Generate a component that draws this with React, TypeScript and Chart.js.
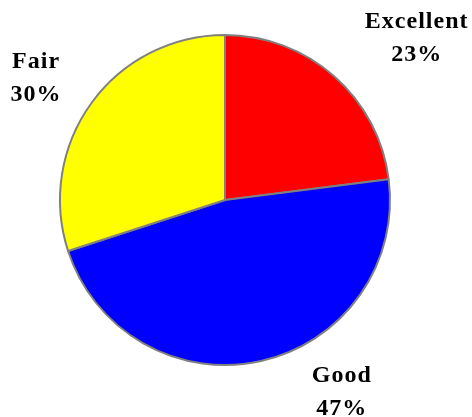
import React, { useEffect, useRef } from "react";
import { Chart, registerables } from "chart.js";

Chart.register(...registerables);

const categories = ["Excellent", "Good", "Fair"];
const values = [23, 47, 30];
const colors = ["#ff0000", "#0000ff", "#ffff00"];
// label placement: angle shift (deg) from slice mid-angle, distance as ratio of radius
const labelAngleShift = [8, -19, -2.7];
const labelDistance = [1.53, 1.35, 1.37];

const labelPlugin = {
  id: "outsideLabels",
  afterDraw(chart: any) {
    const ctx = chart.ctx;
    const meta = chart.getDatasetMeta(0);
    const total = values.reduce((a, b) => a + b, 0);
    ctx.save();
    ctx.fillStyle = "#000";
    ctx.font = "bold 24px \"Liberation Serif\"";
    try { (ctx as any).letterSpacing = "1px"; } catch (e) {}
    ctx.textAlign = "center";
    ctx.textBaseline = "alphabetic";
    meta.data.forEach((arc: any, i: number) => {
      const { x, y, startAngle, endAngle, outerRadius } = arc.getProps(
        ["x", "y", "startAngle", "endAngle", "outerRadius"],
        true
      );
      const mid = (startAngle + endAngle) / 2 + (labelAngleShift[i] * Math.PI) / 180;
      const r = outerRadius * labelDistance[i];
      const cx = x + Math.cos(mid) * r;
      const cy = y + Math.sin(mid) * r;
      const pct = Math.round((values[i] / total) * 100) + "%";
      ctx.fillText(categories[i], cx, cy - 8);
      ctx.fillText(pct, cx, cy + 25);
    });
    ctx.restore();
  },
};

export default function App() {
  const ref = useRef<HTMLCanvasElement>(null);
  useEffect(() => {
    document.body.style.margin = "0";
    const chart = new Chart(ref.current!, {
      type: "pie",
      data: {
        labels: categories,
        datasets: [
          {
            data: values,
            backgroundColor: colors,
            borderColor: "#808080",
            borderWidth: 2,
          },
        ],
      },
      options: {
        animation: false,
        responsive: false,
        layout: { padding: { left: 59, right: 81, top: 34, bottom: 51 } },
        plugins: {
          legend: { display: false },
          tooltip: { enabled: false },
        },
      },
      plugins: [labelPlugin],
    });
    return () => chart.destroy();
  }, []);
  return (
    <div style={{ width: 472, height: 417 }}>
      <canvas ref={ref} width={472} height={417} style={{ display: "block" }} />
    </div>
  );
}
